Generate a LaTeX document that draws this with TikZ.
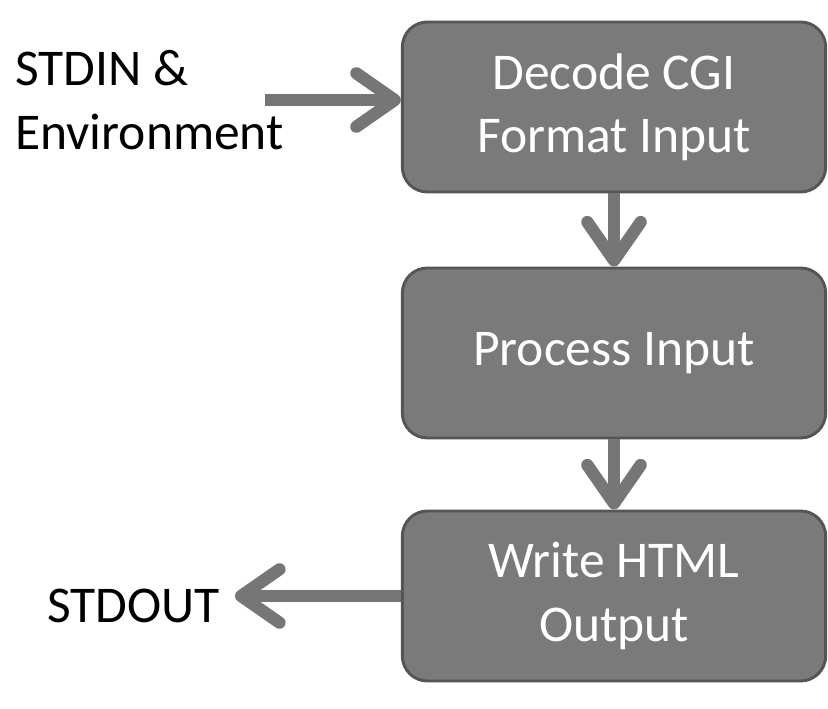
\documentclass[tikz,border=0pt]{standalone}
\usepackage{fontspec}
\setmainfont{Carlito}
\definecolor{boxgray}{RGB}{122,122,122}
\definecolor{edgegray}{RGB}{85,85,85}
\definecolor{arrowgray}{RGB}{118,118,118}
\usetikzlibrary{arrows.meta,positioning}

\begin{document}
\begin{tikzpicture}[x=0.03cm,y=-0.03cm,
    font=\fontsize{44}{54}\selectfont,
    stage/.style={draw=edgegray,line width=2.5pt,fill=boxgray,rounded corners=0.75cm,
      minimum width=12.7cm,minimum height=5.1cm,align=center,text=white},
    ioname/.style={anchor=west,align=left,text=black,inner sep=0pt},
    flow/.style={arrowgray,line width=10.5pt,-{Straight Barb[length=1.15cm,width=1.6cm,round]}}]
  \useasboundingbox (0,0) rectangle (828,709);
  \node[stage] (decode) at (614,107) {Decode CGI\\Format Input};
  \node[stage] (process) at (614,353) {Process Input};
  \node[stage] (write) at (614,596) {Write HTML\\Output};
  \node[ioname] (stdin) at (15,100) {STDIN \&\\Environment};
  \node[ioname] (stdout) at (47,606) {STDOUT};
  \coordinate (in) at (265,100);
  \draw[flow] (in) -- (in -| decode.west);
  \draw[flow] (decode) -- (process);
  \draw[flow] (process) -- (write);
  \draw[flow] (write.west) -- ([xshift=0.45cm]stdout.east |- write.west);
\end{tikzpicture}
\end{document}
